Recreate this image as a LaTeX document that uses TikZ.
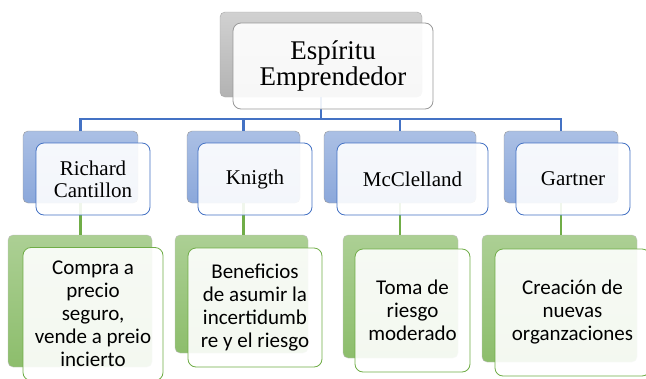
\documentclass[tikz,border=0pt]{standalone}
\usepackage{fontspec}
\setmainfont{Liberation Serif}
\newfontfamily\calibri{Carlito}
\definecolor{azul}{HTML}{4472C4}
\definecolor{verde}{HTML}{70AD47}
\tikzset{
  caja/.style={rounded corners=5pt, inner sep=0pt, outer sep=0pt},
  fondogris/.style={caja, draw=black!35, top color=black!18, bottom color=black!30},
  fondoazul/.style={caja, draw=black!40, top color=azul!45, bottom color=azul!62},
  fondoverde/.style={caja, draw=black!25, top color=verde!58, bottom color=verde!80},
  frente/.style={rounded corners=8pt, inner sep=2pt, outer sep=0pt, fill=white, fill opacity=0.9, text opacity=1, align=center, line width=0.8pt},
  frentegris/.style={frente, draw=black!40, font=\fontsize{27}{24}\selectfont},
  frenteazul/.style={frente, draw=azul, font=\fontsize{21}{22}\selectfont},
  frenteverde/.style={frente, draw=verde, font=\calibri\fontsize{21}{23}\selectfont},
  lazul/.style={draw=azul, line width=2.2pt},
  lverde/.style={draw=verde, line width=2.2pt}
}
\begin{document}
\begin{tikzpicture}[x=1pt,y=-1pt]
  \useasboundingbox (0,0) rectangle (646,378);
  %cajas de fondo
	\node[fondogris, minimum width=202pt, minimum height=85pt] (espb) at (321,54.5) {};
	\node[fondoazul, minimum width=115pt, minimum height=72pt] (rcb) at (80.5,167) {};
	\node[fondoazul, minimum width=113pt, minimum height=72pt] (knb) at (243.5,167) {};
	\node[fondoazul, minimum width=152pt, minimum height=72pt] (mcb) at (400,167) {};
	\node[fondoazul, minimum width=114pt, minimum height=72pt] (gab) at (561,167) {};
	\node[fondoverde, minimum width=144pt, minimum height=132pt] (cob) at (80,301) {};
	\node[fondoverde, minimum width=133pt, minimum height=118pt] (beb) at (241.5,294) {};
	\node[fondoverde, minimum width=115pt, minimum height=123pt] (tob) at (400.5,296.5) {};
	\node[fondoverde, minimum width=155pt, minimum height=127pt] (crb) at (559.5,298.5) {};

  %conectores
	\coordinate (bus) at (0,119);
	\foreach \n in {rcb,knb,mcb,gab}
	  \draw[lazul] (espb.south) -- (espb.south |- bus) -| (\n.north);
	\draw[lverde] (rcb.south) -- (rcb.south |- cob.north);
	\draw[lverde] (knb.south) -- (knb.south |- beb.north);
	\draw[lverde] (mcb.south) -- (mcb.south |- tob.north);
	\draw[lverde] (gab.south) -- (gab.south |- crb.north);

  %cajas de frente
	\node[frentegris, minimum width=200pt, minimum height=86pt] (esp) at (333,66) {Espíritu\\Emprendedor};
	\node[frenteazul, minimum width=114pt, minimum height=72pt] (rc) at (93,179) {Richard\\Cantillon};
	\node[frenteazul, minimum width=114pt, minimum height=72pt] (kn) at (255,179) {Knigth};
	\node[frenteazul, minimum width=151pt, minimum height=72pt] (mc) at (412.5,179) {McClelland};
	\node[frenteazul, minimum width=114pt, minimum height=72pt] (ga) at (573,179) {Gartner};
	\node[frenteverde, minimum width=140pt, minimum height=133pt] (co) at (93,314) {Compra a\\precio\\seguro,\\vende a preio\\incierto};
	\node[frenteverde, minimum width=134pt, minimum height=119pt] (be) at (255,307.5) {Beneficios\\de asumir la\\incertidumb\\re y el riesgo};
	\node[frenteverde, minimum width=115pt, minimum height=123pt] (to) at (412.5,310.5) {Toma de\\riesgo\\moderado};
	\node[frenteverde, minimum width=155pt, minimum height=127pt] (cr) at (572.5,312.5) {Creación de\\nuevas\\organzaciones};
\end{tikzpicture}
\end{document}
